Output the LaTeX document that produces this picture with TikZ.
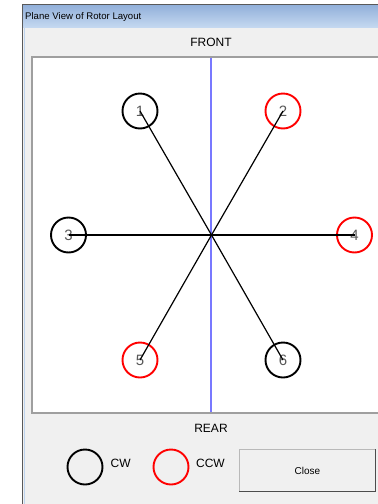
\documentclass[tikz,border=0pt]{standalone}
\usepackage{fontspec}
\setmainfont{Liberation Sans}
\usetikzlibrary{positioning}

\definecolor{winbg}{RGB}{240,240,240}
\definecolor{titletop}{RGB}{146,176,218}
\definecolor{titlebot}{RGB}{196,216,240}
\definecolor{frameblue}{RGB}{190,212,238}
\definecolor{axisblue}{RGB}{120,120,255}

\begin{document}
\begin{tikzpicture}[x=1pt,y=-1pt]
	% Setup the styles for the rotors
	\tikzset{rotor/.style={circle, draw, line width=1.9pt,
			minimum size=35pt, inner sep=0pt,
			text=gray!70!black, font=\fontsize{15}{15}\selectfont},
		cw/.style={rotor, draw=black},
		ccw/.style={rotor, draw=red},
		label text/.style={inner sep=0pt, font=\fontsize{12}{12}\selectfont}}
	
	\useasboundingbox (0,0) rectangle (378,504);
	
	% window frame and title bar
	\fill[white] (0,0) rectangle (378,504);
	\fill[winbg] (22,4) rectangle (378,504);
	\shade[top color=titletop, bottom color=titlebot] (23,5) rectangle (378,27);
	\draw[gray!70!black] (22.5,504) -- (22.5,4.5) -- (378,4.5);
	\draw[frameblue] (24.3,28) -- (24.3,504);
	\node[anchor=west, inner sep=0pt, font=\fontsize{9.6}{10}\selectfont] (title) at (25,17) {Plane View of Rotor Layout};
	
	% plot panel
	\draw[fill=white, draw=gray!75, line width=1.2pt] (32,57) rectangle (382,413);
	\coordinate (front axis) at (211,57.6);
	\coordinate (rear axis) at (211,412.4);
	\draw[draw=axisblue, line width=1.4pt] (front axis) -- (rear axis);
	
	\node[label text] (front) at (211,42) {FRONT};
	\node[label text] (rear)  at (211,428) {REAR};
	
	\coordinate (hub) at (211.5,235);
	\node[cw]  (1) at (140,111) {1};
	\node[ccw] (2) at (283,111) {2};
	\node[cw]  (3) at (68.5,235) {3};
	\node[ccw] (4) at (354.5,235) {4};
	\node[ccw] (5) at (140,360) {5};
	\node[cw]  (6) at (283,360) {6};
	
	\draw[line width=1.2pt]
	(hub) edge (1.center)
	(hub) edge (2.center)
	(hub) edge (3.center)
	(hub) edge (4.center)
	(hub) edge (5.center)
	(hub) edge (6.center);
	
	% legend
	\node[cw]  (cw key)  at (85,467) {};
	\node[label text, right=7pt of cw key, yshift=3.5pt] (cw label) {CW};
	\node[ccw] (ccw key) at (171,467) {};
	\node[label text, right=6.5pt of ccw key, yshift=3.5pt] (ccw label) {CCW};
	
	% close button
	\node[draw=gray!55, fill=winbg, minimum width=136pt, minimum height=42pt,
	inner sep=0pt, font=\fontsize{10}{10}\selectfont] (close) at (307.5,470.5) {Close};
	\draw[gray!60!black, line width=1.5pt] (close.south west) -- (close.south east) -- (close.north east);
	
\end{tikzpicture}
\end{document}
